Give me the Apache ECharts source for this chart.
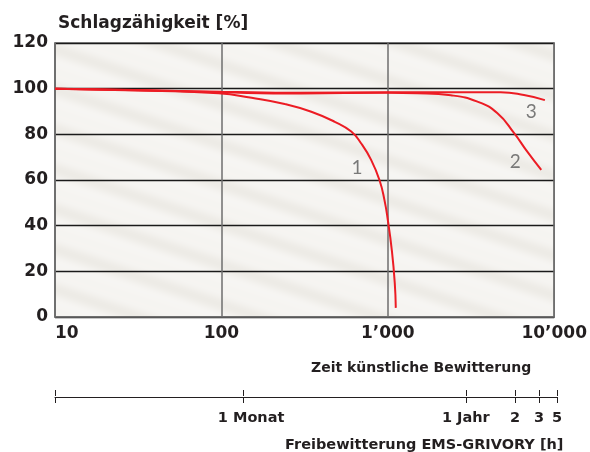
<!DOCTYPE html>
<html>
<head>
<meta charset="utf-8">
<script src="https://cdn.jsdelivr.net/npm/echarts@6/dist/echarts.min.js"></script>
<style>
  html, body { margin: 0; padding: 0; background: #fff; }
</style>
</head>
<body>
<div id="main" style="width: 590px;height:452px;"></div>
<script>
// Zeit künstliche Bewitterung [h] / Schlagzähigkeit [%]
var curve1X = [10, 30, 96, 152, 240, 347, 480, 603, 692, 794, 891, 955, 1000, 1057, 1101, 1117];
var curve1Y = [100, 99.4, 98, 96.0, 93.3, 89.9, 85.5, 81.2, 76, 68.8, 60, 51.2, 42.5, 29.3, 15, 4];
var curve2X = [10, 100, 300, 1000, 1514, 2393, 3459, 4560, 5745, 6890, 8360];
var curve2Y = [100, 98.4, 97.9, 98.2, 98, 97.1, 94.3, 89.2, 80.5, 72.4, 64.4];
var curve3X = [10, 100, 300, 1000, 3000, 4765, 6580, 8790];
var curve3Y = [100, 98.7, 98.2, 98.4, 98.4, 98.4, 97.2, 95];

// Kurvenbeschriftung
var curveNames = ['1', '2', '3'];
var curveLabelX = [652, 5834, 7278];
var curveLabelY = [65.3, 67.9, 89.8];

// Achsenbeschriftungen
var xTickValues = [10, 100, 1000, 10000];
var xTickLabels = ['10', '100', '1\u2019000', '10\u2019000'];
var outdoorHours = [10, 134, 2850, 5610, 7800, 10000];
var outdoorLabels = ['', '1 Monat', '1 Jahr', '2', '3', '5'];

var FONT = 'DejaVu Sans';

function pairs(xs, ys) {
  return xs.map(function (x, i) { return [x, ys[i]]; });
}

// Hintergrund mit diagonalen Streifen
function makeStripes() {
  var w = 120, h = 40;
  var c = document.createElement('canvas');
  c.width = w; c.height = h;
  var ctx = c.getContext('2d');
  var img = ctx.createImageData(w, h);
  for (var y = 0; y < h; y++) {
    for (var x = 0; x < w; x++) {
      var p = 2 * Math.PI * (-x / w + y / h);
      var p2 = 2 * Math.PI * (-2 * x / w + 2 * y / h);
      var v = 0.5 + 0.35 * Math.sin(p) + 0.15 * Math.sin(p2 + 1.3);
      v = Math.max(0, Math.min(1, v));
      var k = (y * w + x) * 4;
      img.data[k] = 237 + v * 12;
      img.data[k + 1] = 235 + v * 13;
      img.data[k + 2] = 230 + v * 16;
      img.data[k + 3] = 255;
    }
  }
  ctx.putImageData(img, 0, 0);
  return c;
}

var outdoorLg = outdoorHours.map(function (h) { return Math.log10(h); });

var myChart = echarts.init(document.getElementById('main'));

var lineStyle = { color: '#ec1c24', width: 2 };

var option = {
  backgroundColor: '#fff',
  animation: false,
  textStyle: { fontFamily: FONT },
  grid: [
    {
      left: 55, right: 33, top: 43, height: 274,
      show: true,
      backgroundColor: { image: makeStripes(), repeat: 'repeat' },
      borderColor: '#6e6e6e', borderWidth: 1.5
    },
    { left: 55, right: 33, top: 396, height: 1 }
  ],
  xAxis: [
    {
      type: 'log', logBase: 10, min: 10, max: 10000, gridIndex: 0,
      axisLine: { show: true, lineStyle: { color: '#6e6e6e', width: 1.5 } },
      axisTick: { show: false },
      splitLine: { show: true, lineStyle: { color: '#6e6e6e', width: 1.5 } },
      minorTick: { show: false },
      axisLabel: {
        color: '#231f20', fontWeight: 'bold', fontSize: 17, margin: 8, fontFamily: FONT,
        alignMinLabel: 'left',
        formatter: function (v) {
          var i = xTickValues.indexOf(Math.round(v));
          return i >= 0 ? xTickLabels[i] : '';
        }
      }
    },
    {
      type: 'value', min: 1, max: 4, gridIndex: 1, position: 'bottom',
      axisLine: { show: true, lineStyle: { color: '#231f20', width: 1 } },
      axisTick: { show: true, length: 6, lineStyle: { color: '#231f20' }, customValues: outdoorLg },
      splitLine: { show: false },
      axisLabel: {
        show: true, color: '#231f20', fontWeight: 'bold', fontSize: 14.5, margin: 14, fontFamily: FONT,
        customValues: outdoorLg,
        rich: { m: { padding: [0, 0, 0, 15], fontWeight: 'bold', fontSize: 14.5, fontFamily: FONT, color: '#231f20' } },
        formatter: function (v) {
          for (var i = 0; i < outdoorLg.length; i++) {
            if (Math.abs(outdoorLg[i] - v) < 1e-6) {
              return i === 1 ? '{m|' + outdoorLabels[i] + '}' : outdoorLabels[i];
            }
          }
          return '';
        }
      }
    },
    {
      type: 'value', min: 1, max: 4, gridIndex: 1, position: 'top',
      axisLine: { show: false },
      axisTick: { show: true, length: 6, lineStyle: { color: '#231f20' }, customValues: outdoorLg },
      splitLine: { show: false },
      axisLabel: { show: false }
    }
  ],
  yAxis: [
    {
      type: 'value', min: 0, max: 120, interval: 20, gridIndex: 0,
      axisLine: { show: true, lineStyle: { color: '#6e6e6e', width: 1.5 } },
      axisTick: { show: false },
      splitLine: { show: true, lineStyle: { color: '#1a1a1a', width: 1.3 } },
      axisLabel: { color: '#231f20', fontWeight: 'bold', fontSize: 17, margin: 7, fontFamily: FONT }
    },
    { type: 'value', gridIndex: 1, show: false }
  ],
  graphic: [
    {
      type: 'text', left: 58, top: 15,
      style: { text: 'Schlagz\u00e4higkeit [%]', font: 'bold 17px ' + FONT, fill: '#231f20' }
    },
    {
      type: 'text', left: 311, top: 361,
      style: { text: 'Zeit k\u00fcnstliche Bewitterung', font: 'bold 14px ' + FONT, fill: '#231f20' }
    },
    {
      type: 'text', left: 285, top: 438,
      style: { text: 'Freibewitterung EMS-GRIVORY [h]', font: 'bold 14.5px ' + FONT, fill: '#231f20' }
    }
  ],
  series: [
    { name: '1', type: 'line', data: pairs(curve1X, curve1Y), smooth: 0.5, showSymbol: false, lineStyle: lineStyle, itemStyle: { color: '#ec1c24' } },
    { name: '2', type: 'line', data: pairs(curve2X, curve2Y), smooth: 0.5, showSymbol: false, lineStyle: lineStyle, itemStyle: { color: '#ec1c24' } },
    { name: '3', type: 'line', data: pairs(curve3X, curve3Y), smooth: 0.5, showSymbol: false, lineStyle: lineStyle, itemStyle: { color: '#ec1c24' } },
    {
      type: 'scatter', symbolSize: 0,
      data: curveLabelX.map(function (x, i) { return { value: [x, curveLabelY[i]], name: curveNames[i] }; }),
      label: {
        show: true, position: 'inside', formatter: '{b}',
        color: '#5a5a5a', fontSize: 19, fontWeight: 'normal', fontFamily: 'Lato'
      }
    }
  ]
};

myChart.setOption(option);
window.addEventListener('resize', function () {
  myChart.resize();
});
</script>
</body>
</html>
